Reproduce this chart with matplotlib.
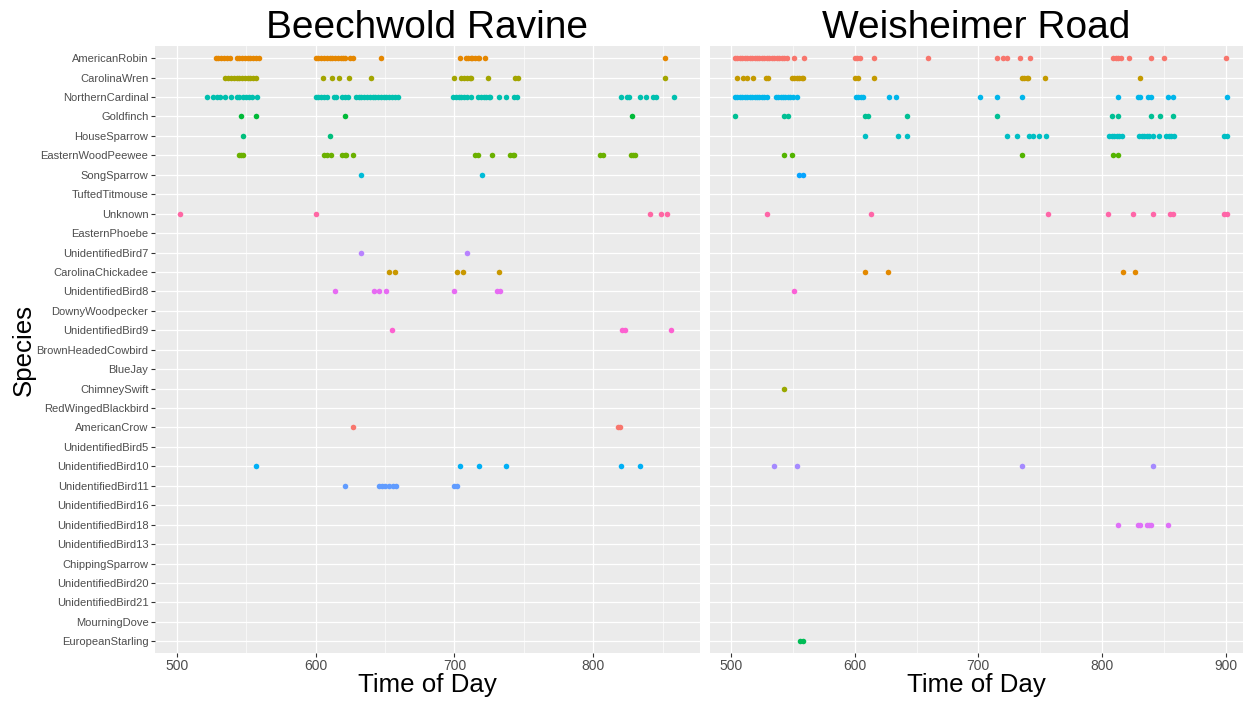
import numpy as np
import matplotlib
matplotlib.use("Agg")
import matplotlib.pyplot as plt
from matplotlib.ticker import MultipleLocator

plt.rcParams['font.family'] = ['Liberation Sans', 'DejaVu Sans']

# y axis order, top to bottom
species_order = [
    "AmericanRobin", "CarolinaWren", "NorthernCardinal", "Goldfinch",
    "HouseSparrow", "EasternWoodPeewee", "SongSparrow", "TuftedTitmouse",
    "Unknown", "EasternPhoebe", "UnidentifiedBird7", "CarolinaChickadee",
    "UnidentifiedBird8", "DownyWoodpecker", "UnidentifiedBird9",
    "BrownHeadedCowbird", "BlueJay", "ChimneySwift", "RedWingedBlackbird",
    "AmericanCrow", "UnidentifiedBird5", "UnidentifiedBird10",
    "UnidentifiedBird11", "UnidentifiedBird16", "UnidentifiedBird18",
    "UnidentifiedBird13", "ChippingSparrow", "UnidentifiedBird20",
    "UnidentifiedBird21", "MourningDove", "EuropeanStarling",
]

# ---- Beechwold Ravine detections (minutes) ----
bw_robin = [528, 530, 532, 534, 536, 538, 543, 545, 547, 549, 551, 553, 555,
            557, 559, 600, 602, 604, 606, 608, 610, 612, 614, 616, 618, 620,
            621, 625, 627, 647, 704, 708, 710, 712, 713, 715, 717, 718, 722, 852]
bw_wren = [535, 537, 539, 541, 543, 545, 547, 549, 551, 553, 555, 557, 605,
           612, 617, 624, 640, 700, 705, 707, 709, 711, 712, 724, 744, 746, 852]
bw_cardinal = [522, 526, 529, 531, 535, 539, 543, 545, 548, 550, 552, 554, 558,
               600, 602, 604, 606, 608, 613, 615, 619, 621, 623, 629, 631, 633,
               635, 637, 639, 641, 643, 645, 647, 649, 651, 653, 655, 657, 659,
               699, 701, 703, 705, 707, 709, 712, 717, 719, 721, 723, 725, 726,
               732, 737, 743, 745, 820, 824, 826, 834, 838, 843, 845, 858]
bw_goldfinch = [546, 557, 621, 828]
bw_housesparrow = [548, 610]
bw_peewee = [545, 546, 548, 606, 608, 611, 619, 621, 622, 627, 715, 717, 727,
             740, 742, 743, 805, 807, 827, 829, 830]
bw_songsparrow = [633, 720]
bw_unknown = [502, 600, 841, 849, 853]
bw_ub7 = [633, 709]
bw_chickadee = [653, 657, 702, 706, 732]
bw_ub8 = [614, 642, 646, 651, 700, 731, 733]
bw_ub9 = [655, 821, 823, 856]
bw_crow = [627, 818, 819]
bw_ub10 = [557, 704, 718, 737, 820, 834]
bw_ub11 = [621, 646, 648, 650, 653, 656, 658, 700, 702]

# ---- Weisheimer Road detections (minutes) ----
wr_robin = [503, 505, 507, 509, 511, 513, 515, 517, 519, 521, 523, 525, 527,
            529, 531, 533, 535, 537, 539, 541, 543, 545, 551, 559, 600, 602,
            604, 616, 659, 715, 720, 723, 734, 742, 809, 811, 813, 815, 822,
            840, 850, 900]
wr_wren = [505, 510, 513, 518, 528, 530, 549, 551, 553, 555, 557, 558, 600,
           603, 616, 735, 737, 739, 740, 754, 831]
wr_cardinal = [503, 505, 507, 509, 511, 513, 515, 517, 519, 521, 523, 525, 527,
               529, 536, 538, 540, 542, 544, 546, 548, 550, 553, 601, 603, 605,
               607, 628, 633, 701, 715, 735, 813, 829, 831, 837, 840, 853, 857,
               901]
wr_goldfinch = [503, 543, 546, 608, 611, 642, 715, 808, 813, 840, 847, 857]
wr_housesparrow = [608, 635, 642, 723, 731, 741, 744, 749, 755, 806, 808, 810,
                   812, 814, 816, 830, 832, 834, 836, 838, 841, 846, 852, 854,
                   856, 858, 899, 901]
wr_peewee = [543, 549, 735, 809, 813]
wr_songsparrow = [555, 558]
wr_unknown = [529, 613, 756, 805, 825, 841, 855, 857, 899, 901]
wr_chickadee = [608, 627, 817, 827]
wr_ub8 = [551]
wr_swift = [543]
wr_ub10 = [535, 553, 735, 841]
wr_ub18 = [813, 829, 831, 836, 838, 840, 853]
wr_starling = [556, 558]

beechwold = {
    "AmericanRobin": bw_robin, "CarolinaWren": bw_wren,
    "NorthernCardinal": bw_cardinal, "Goldfinch": bw_goldfinch,
    "HouseSparrow": bw_housesparrow, "EasternWoodPeewee": bw_peewee,
    "SongSparrow": bw_songsparrow, "Unknown": bw_unknown,
    "UnidentifiedBird7": bw_ub7, "CarolinaChickadee": bw_chickadee,
    "UnidentifiedBird8": bw_ub8, "UnidentifiedBird9": bw_ub9,
    "AmericanCrow": bw_crow, "UnidentifiedBird10": bw_ub10,
    "UnidentifiedBird11": bw_ub11,
}
weisheimer = {
    "AmericanRobin": wr_robin, "CarolinaWren": wr_wren,
    "NorthernCardinal": wr_cardinal, "Goldfinch": wr_goldfinch,
    "HouseSparrow": wr_housesparrow, "EasternWoodPeewee": wr_peewee,
    "SongSparrow": wr_songsparrow, "Unknown": wr_unknown,
    "CarolinaChickadee": wr_chickadee, "UnidentifiedBird8": wr_ub8,
    "ChimneySwift": wr_swift, "UnidentifiedBird10": wr_ub10,
    "UnidentifiedBird18": wr_ub18, "EuropeanStarling": wr_starling,
}


def hcl_to_hex(h, c=100.0, l=65.0):
    # polar Luv -> sRGB, same as R's hcl()
    wx, wy, wz = 95.047, 100.0, 108.883
    U = c * np.cos(np.radians(h))
    V = c * np.sin(np.radians(h))
    Y = wy * ((l + 16) / 116) ** 3 if l > 7.999592 else wy * l / 903.3
    t = wx + wy + wz
    x, y = wx / t, wy / t
    un = 2 * x / (6 * y - x + 1.5)
    vn = 4.5 * y / (6 * y - x + 1.5)
    u = U / (13 * l) + un
    v = V / (13 * l) + vn
    X = 9.0 * Y * u / (4 * v)
    Z = -X / 3 - 5 * Y + 3 * Y / v

    def gt(a):
        return 1.055 * a ** (1 / 2.4) - 0.055 if a > 0.00304 else 12.92 * a

    r = gt((3.240479 * X - 1.537150 * Y - 0.498535 * Z) / wy)
    g = gt((-0.969256 * X + 1.875992 * Y + 0.041556 * Z) / wy)
    b = gt((0.055648 * X - 0.204043 * Y + 1.057311 * Z) / wy)
    return tuple(min(max(k, 0), 1) for k in (r, g, b))


def hue_pal(n):
    hues = np.linspace(15, 375, n + 1)[:-1]
    return [hcl_to_hex(h) for h in hues]


def draw_panel(ax, data, xlim, title, show_y):
    names = sorted(data.keys())
    cols = dict(zip(names, hue_pal(len(names))))
    ypos = {s: i for i, s in enumerate(species_order)}
    for s in names:
        xs = data[s]
        ax.scatter(xs, [ypos[s]] * len(xs), s=16, color=cols[s],
                   linewidths=0, zorder=3)
    ax.set_facecolor("#EBEBEB")
    ax.set_xlim(*xlim)
    ax.set_ylim(len(species_order) - 0.4, -0.6)
    ax.xaxis.set_major_locator(MultipleLocator(100))
    ax.xaxis.set_minor_locator(MultipleLocator(50))
    ax.set_yticks(range(len(species_order)))
    ax.grid(which="major", color="white", lw=0.9, zorder=0)
    ax.grid(which="minor", axis="x", color="white", lw=0.45, zorder=0)
    ax.set_axisbelow(True)
    for sp in ax.spines.values():
        sp.set_visible(False)
    ax.tick_params(axis="x", which="major", length=2.7, width=0.8,
                   color="#333333", labelcolor="#4D4D4D", labelsize=10, pad=2)
    ax.tick_params(which="minor", length=0)
    if show_y:
        ax.set_yticklabels(species_order)
        ax.tick_params(axis="y", length=2.7, width=0.8, color="#333333",
                       labelcolor="#4D4D4D", labelsize=8, pad=1.8)
    else:
        ax.tick_params(axis="y", length=0, labelleft=False)
    ax.set_xlabel("Time of Day", fontsize=18.6, labelpad=0)
    ax.set_title(title, fontsize=28, pad=2)


fig = plt.figure(figsize=(12.45, 7.05), dpi=100)
ax1 = fig.add_axes([0.1242, 0.0738, 0.4381, 0.8603])
ax2 = fig.add_axes([0.5703, 0.0738, 0.4281, 0.8603])

draw_panel(ax1, beechwold, (484, 877), "Beechwold Ravine", True)
draw_panel(ax2, weisheimer, (483, 914), "Weisheimer Road", False)

fig.text(0.019, 0.0738 + 0.8603 / 2, "Species", rotation=90, fontsize=18.6,
         ha="center", va="center")

fig.savefig("out.png", dpi=100)
plt.close(fig)
